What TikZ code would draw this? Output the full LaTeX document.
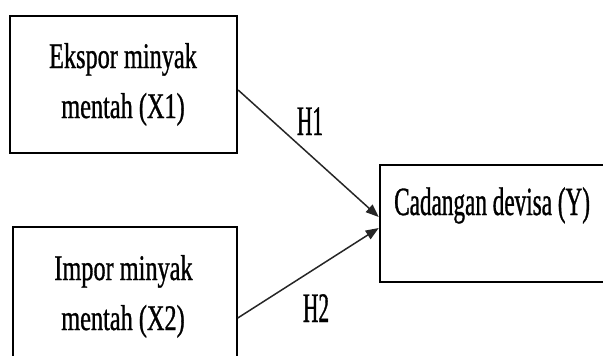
\documentclass[tikz,border=0pt]{standalone}
\usepackage{fontspec}
\setmainfont{Liberation Serif}
\newfontfamily\boxserif[FakeStretch=0.675,FakeBold=0.8]{Liberation Serif}
\newfontfamily\outserif[FakeStretch=0.58,FakeBold=0.8]{Liberation Serif}
\newfontfamily\hypserif[FakeStretch=0.51,FakeBold=0.8]{Liberation Serif}
\usetikzlibrary{arrows.meta,calc}
\begin{document}
\begin{tikzpicture}[x=1pt,y=-1pt,
  varbox/.style={draw=black, line width=2.3pt, rectangle, inner sep=0pt},
  vartext/.style={anchor=base, inner sep=0pt, text=black,
    font=\boxserif\fontsize{36}{40}\selectfont},
  link/.style={-{Triangle[length=13pt,width=10pt]}, line width=1.5pt, draw=black!85},
  hyp/.style={anchor=base, inner sep=0pt, font=\hypserif\fontsize{42}{44}\selectfont}]
\useasboundingbox (0,0) rectangle (603,356);
\clip (0,0) rectangle (603,356);

% independent variables
\node[varbox, minimum width=227pt, minimum height=137pt] (x1) at (123.5,84.5) {};
\node[vartext] (x1a) at (123,68) {Ekspor minyak};
\node[vartext] (x1b) at (123,118) {mentah (X1)};

\node[varbox, line width=1.5pt, minimum width=224pt, minimum height=134pt] (x2) at (125,294) {};
\node[vartext] (x2a) at (123.5,280) {Impor minyak};
\node[vartext] (x2b) at (123,330) {mentah (X2)};

% dependent variable
\node[varbox, line width=2.5pt, minimum width=235pt, minimum height=117pt] (y) at (497.5,223.5) {};
\node[vartext, anchor=base west, font=\outserif\fontsize{40}{44}\selectfont]
  (ytxt) at (394,215) {Cadangan devisa (Y)};

% hypothesised effects
\draw[link] ($(x1.east)+(0,5.5)$) -- ($(y.west)+(0,-6.5)$);
\draw[link] ($(x2.east)+(0,24)$) -- ($(y.west)+(0,4.5)$);

\node[hyp] (h1) at (310,135) {H1};
\node[hyp] (h2) at (316,322) {H2};
\end{tikzpicture}
\end{document}
